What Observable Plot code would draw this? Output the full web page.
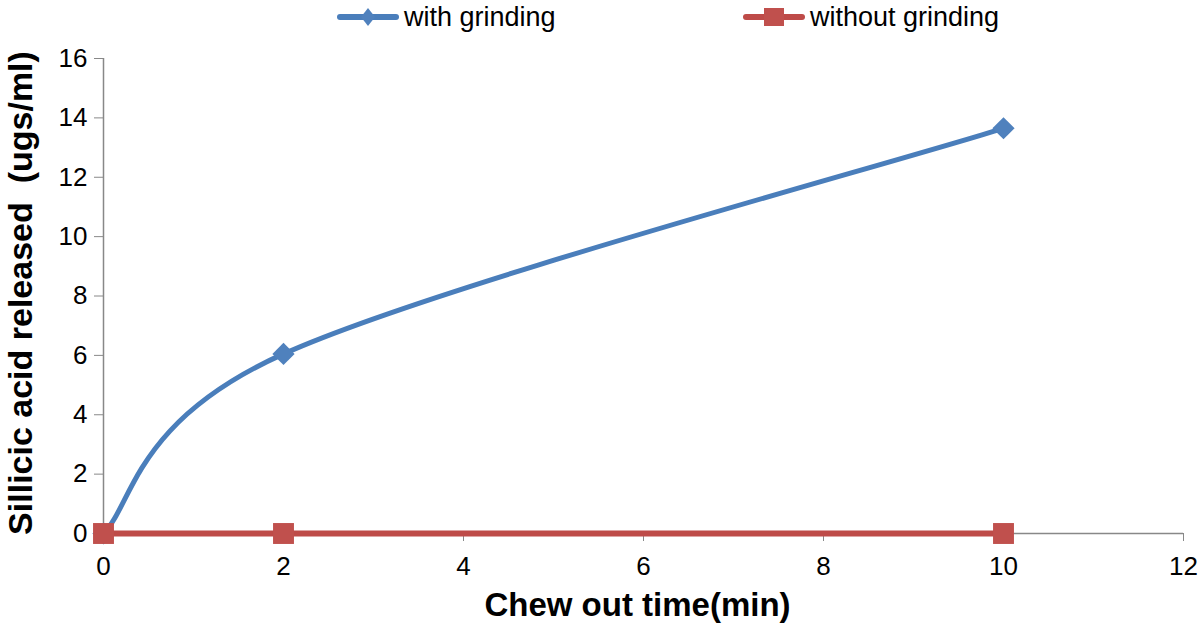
<!DOCTYPE html>
<html><head><meta charset="utf-8">
<script src="https://cdn.jsdelivr.net/npm/d3@7"></script>
<script src="https://cdn.jsdelivr.net/npm/@observablehq/plot@0.6"></script>
<style>
body{margin:0;background:#fff;font-family:"Liberation Sans",Arial,sans-serif;}
#legend{position:relative;height:36px;width:1200px;}
.item{position:absolute;top:0;height:34px;display:flex;align-items:center;font-size:27px;color:#000;white-space:nowrap;}
.item svg{margin-right:5px;display:block}
#chart svg text{white-space:pre}
#chart g[aria-label$="tick label"], #chart g[aria-label$="tick label"] text{font-size:26px !important;}
</style></head><body>
<div id="legend"></div><div id="chart"></div>
<script>
const times = [0, 2, 10];
const withGrinding = [0, 6.05, 13.65];
const withoutGrinding = [0, 0, 0];
const seriesNames = ["with grinding", "without grinding"];
const lineColors = ["#4A7EBB", "#BE4B48"];
const markerColors = ["#4F81BD", "#C0504D"];
const xTicks = [0, 2, 4, 6, 8, 10, 12];
const yTicks = [0, 2, 4, 6, 8, 10, 12, 14, 16];
const xTitle = "Chew out time(min)";
const yTitle = "Sillicic acid released  (ugs/ml)";

// Spreadsheet-style smoothed line (Catmull-Rom with repeated end points)
function smoothCurve(context) {
  let pts = [];
  return {
    areaStart() {}, areaEnd() {},
    lineStart() { pts = []; },
    point(x, y) { pts.push([+x, +y]); },
    lineEnd() {
      const n = pts.length;
      if (!n) return;
      context.moveTo(pts[0][0], pts[0][1]);
      for (let i = 0; i < n - 1; i++) {
        const p0 = pts[Math.max(i - 1, 0)], p1 = pts[i], p2 = pts[i + 1], p3 = pts[Math.min(i + 2, n - 1)];
        context.bezierCurveTo(
          p1[0] + (p2[0] - p0[0]) / 6, p1[1] + (p2[1] - p0[1]) / 6,
          p2[0] - (p3[0] - p1[0]) / 6, p2[1] - (p3[1] - p1[1]) / 6,
          p2[0], p2[1]);
      }
    }
  };
}

// legend
const legendLeft = [337, 743];
const legend = document.getElementById("legend");
seriesNames.forEach((name, i) => {
  const div = document.createElement("div");
  div.className = "item";
  div.style.left = legendLeft[i] + "px";
  const marker = i === 0
    ? `<path d="M31,8 L38,17 L31,26 L24,17 Z" fill="${markerColors[0]}"/>`
    : `<rect x="21" y="8" width="20" height="18" fill="${markerColors[1]}"/>`;
  div.innerHTML = `<svg width="62" height="34"><line x1="3" x2="59" y1="17" y2="17" stroke="${lineColors[i]}" stroke-width="6" stroke-linecap="round"/>${marker}</svg><span>${name}</span>`;
  legend.appendChild(div);
});

const dWith = times.map((t, i) => ({t, v: withGrinding[i]}));
const dWithout = times.map((t, i) => ({t, v: withoutGrinding[i]}));

const plot = Plot.plot({
  width: 1200, height: 596,
  marginTop: 22, marginBottom: 99, marginLeft: 103, marginRight: 17,
  style: {fontFamily: '"Liberation Sans", Arial, sans-serif', background: "#fff", color: "#000", overflow: "visible"},
  x: {domain: [0, 12]},
  y: {domain: [0, 16]},
  marks: [
    Plot.ruleX([0], {stroke: "#888", strokeWidth: 1.5}),
    Plot.ruleY([0], {stroke: "#888", strokeWidth: 1.5}),
    Plot.axisY(yTicks, {tickSize: 9, tickPadding: 7, fontSize: 26, stroke: "#888", label: null}),
    Plot.axisX(xTicks, {tickSize: 8, tickPadding: 15, fontSize: 26, stroke: "#888", label: null}),
    Plot.line(dWith, {x: "t", y: "v", curve: smoothCurve, stroke: lineColors[0], strokeWidth: 5}),
    Plot.dot(dWith, {x: "t", y: "v", symbol: "diamond2", r: 10, fill: markerColors[0]}),
    Plot.line(dWithout, {x: "t", y: "v", stroke: lineColors[1], strokeWidth: 6}),
    Plot.dot(dWithout, {x: "t", y: "v", symbol: "square", r: 11.8, fill: markerColors[1]}),
    Plot.text([xTitle], {frameAnchor: "bottom", dx: -6, dy: 82, fontSize: 33, fontWeight: "bold", fill: "#000"}),
    Plot.text([yTitle], {frameAnchor: "left", textAnchor: "middle", dx: -82, dy: -3, rotate: -90, fontSize: 34, fontWeight: "bold", fill: "#000"})
  ]
});
document.getElementById("chart").appendChild(plot);
</script>
</body></html>
